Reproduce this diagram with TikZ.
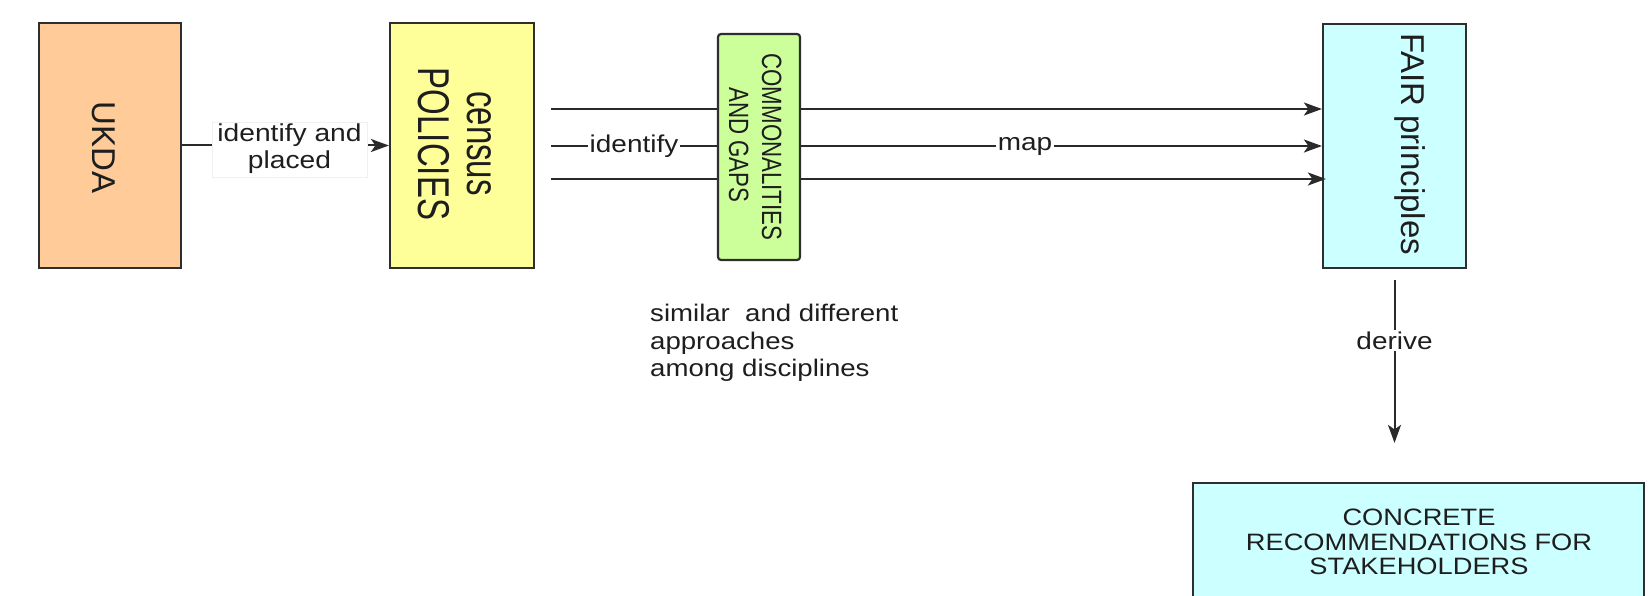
\documentclass[tikz,border=0pt]{standalone}
\usepackage{fontspec}
\setmainfont{Liberation Sans}
\usepackage{graphicx}
\usetikzlibrary{arrows.meta}
\definecolor{ukdafill}{HTML}{FFCC99}
\definecolor{polfill}{HTML}{FFFF99}
\definecolor{commfill}{HTML}{CCFF99}
\definecolor{fairfill}{HTML}{CCFFFF}
\definecolor{boxline}{HTML}{2E2E2E}
\definecolor{lineclr}{HTML}{2A2A2A}
\definecolor{txt}{HTML}{1E1E1E}
\newcommand\hst[1]{\scalebox{1.15}[1]{#1}}
\begin{document}
\begin{tikzpicture}[x=1pt,y=-1pt,
  every node/.style={text=txt},
  box/.style={draw=boxline, line width=2.2pt, inner sep=0},
  conn/.style={draw=lineclr, line width=2pt},
  arr/.style={-{Stealth[length=18pt,width=13pt,inset=4.5pt]}},
  rot/.style={rotate=-90, anchor=base, inner sep=0},
  big/.style={font=\fontsize{33}{40}\selectfont},
  lbl/.style={fill=white, inner sep=1.5pt, font=\fontsize{24.3}{26}\selectfont}]
\useasboundingbox (0,0) rectangle (1648,596);
\fill[white] (0,0) rectangle (1648,596);

% boxes
\node[box, fill=ukdafill, minimum width=142, minimum height=245] (ukda) at (110,145.5) {};
\node[box, fill=polfill, minimum width=144, minimum height=245] (pol) at (462,145.5) {};
\node[box, fill=fairfill, minimum width=143, minimum height=244] (fair) at (1394.5,146) {};
\node[box, fill=fairfill, minimum width=451, minimum height=117] (conc) at (1418.5,541.5) {};

% three lines to FAIR
\coordinate (s1) at (551,109);
\coordinate (s2) at (551,146);
\coordinate (s3) at (551,179);
\draw[conn, arr] (s1) -- (s1 -| fair.west);
\draw[conn, arr] (s2) -- (s2 -| fair.west);
\draw[conn, arr, shorten >=-4pt] (s3) -- (s3 -| fair.west);

% commonalities box on top of the lines
\node[box, fill=commfill, rounded corners=3pt, minimum width=82, minimum height=226] (comm) at (759,147) {};

% labels on middle line
\node[lbl] (lid) at (634,146) {\hst{identify}};
\node[lbl] (lmap) at (1025,146) {\hst{map}};

% UKDA -> POLICIES
\draw[conn, arr] (ukda.east) -- node[fill=white, draw=gray!12, line width=0.6pt, inner sep=0,
   minimum width=155, minimum height=55, xshift=4pt, yshift=-4pt,
   font=\fontsize{24.5}{27}\selectfont] (lplaced)
   {\hst{\begin{tabular}{@{}c@{}}identify and\\placed\end{tabular}}} (pol.west);

% FAIR -> CONCRETE
\draw[conn, arr, shorten <=11pt, shorten >=39pt] (fair.south) --
   node[lbl, pos=0.335] (lderive) {\hst{derive}} (fair.south |- conc.north);

% box texts
\node[rot, big] (tukda) at (92,147.5) {UKDA};
\node[rot, big] (tpol) at (418,144) {\scalebox{1}[1.35]{POLICIES}};
\node[rot, big] (tcensus) at (467,143.5) {\scalebox{1}[1.35]{census}};
\node[rot, font=\fontsize{22.3}{27}\selectfont] (tcomm1) at (762,147) {\scalebox{1}[1.25]{COMMONALITIES}};
\node[rot, font=\fontsize{22.3}{27}\selectfont] (tcomm2) at (729,145) {\scalebox{1}[1.25]{AND GAPS}};
\node[rot, big] (tfair) at (1401,144) {FAIR principles};

\node[anchor=north, inner sep=0, font=\fontsize{23.7}{24.5}\selectfont] (tconc) at (1419,508.5)
  {\hst{\begin{tabular}{@{}c@{}}CONCRETE\\RECOMMENDATIONS FOR\\STAKEHOLDERS\end{tabular}}};

\node[anchor=north west, inner sep=0, font=\fontsize{24}{27.5}\selectfont] (tsim) at (650,302.5)
  {\hst{\begin{tabular}{@{}l@{}}similar\ \ and different\\approaches\\among disciplines\end{tabular}}};
\end{tikzpicture}
\end{document}
